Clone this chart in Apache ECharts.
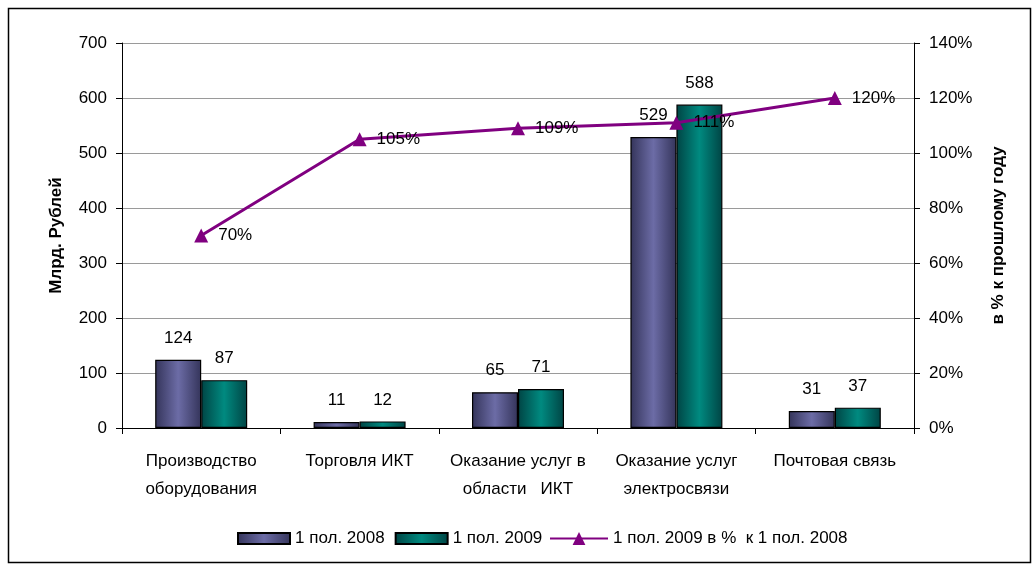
<!DOCTYPE html>
<html><head><meta charset="utf-8">
<script src="https://cdn.jsdelivr.net/npm/echarts@6/dist/echarts.min.js"></script>
<style>html,body{margin:0;padding:0;background:#fff}#c{width:1032px;height:565px}</style>
</head><body><div id="c"></div>
<script>
const categories = ['Производство\nоборудования', 'Торговля ИКТ', 'Оказание услуг в\nобласти   ИКТ', 'Оказание услуг\nэлектросвязи', 'Почтовая связь'];
const values2008 = [124, 11, 65, 529, 31];
const values2009 = [87, 12, 71, 588, 37];
const growthPct = [70, 105, 109, 111, 120];
const seriesNames = ['1 пол. 2008', '1 пол. 2009', '1 пол. 2009 в %  к 1 пол. 2008'];

const FONT = 'Liberation Sans';
const FS = 17;
function hGrad(edge, mid) {
  return new echarts.graphic.LinearGradient(0, 0, 1, 0, [
    {offset: 0, color: edge}, {offset: 0.5, color: mid}, {offset: 1, color: edge}
  ]);
}
const chart = echarts.init(document.getElementById('c'), null, {renderer: 'canvas'});
chart.setOption({
  animation: false,
  textStyle: {fontFamily: FONT, color: '#000'},
  graphic: [{type: 'rect', shape: {x: 8.5, y: 8.5, width: 1022, height: 554}, style: {fill: 'none', stroke: '#000', lineWidth: 1.5}, silent: true, z: -1}],
  grid: {left: 122, right: 118, top: 43, bottom: 137, containLabel: false},
  legend: [{
    top: 530, left: 237, itemGap: 10, itemWidth: 52, itemHeight: 11,
    textStyle: {fontFamily: FONT, fontSize: FS, color: '#000'},
    padding: 0,
    data: [
      {name: seriesNames[0], icon: 'rect'},
      {name: seriesNames[1], icon: 'rect'}
    ]
  }, {
    top: 530, left: 549, itemWidth: 58, itemHeight: 16,
    textStyle: {fontFamily: FONT, fontSize: FS, color: '#000'},
    padding: 0,
    data: [{name: seriesNames[2]}]
  }],
  xAxis: {
    type: 'category', data: categories,
    axisLine: {lineStyle: {color: '#000', width: 1}},
    axisTick: {show: true, alignWithLabel: false, length: 6, lineStyle: {color: '#000'}},
    axisLabel: {fontSize: FS, fontFamily: FONT, color: '#000', margin: 19, lineHeight: 28, interval: 0}
  },
  yAxis: [{
    type: 'value', min: 0, max: 700, interval: 100,
    name: 'Млрд. Рублей', nameLocation: 'middle', nameGap: 57, nameRotate: 90,
    nameTextStyle: {fontSize: FS, fontWeight: 'bold', color: '#000', fontFamily: FONT},
    axisLine: {show: true, lineStyle: {color: '#000'}},
    axisTick: {show: true, length: 6, lineStyle: {color: '#000'}},
    axisLabel: {fontSize: FS, fontFamily: FONT, color: '#000', margin: 15},
    splitLine: {lineStyle: {color: '#9a9a9a', width: 1}}
  }, {
    type: 'value', min: 0, max: 140, interval: 20, position: 'right',
    name: 'в % к прошлому году', nameLocation: 'middle', nameGap: 76, nameRotate: 90,
    nameTextStyle: {fontSize: FS, fontWeight: 'bold', color: '#000', fontFamily: FONT},
    axisLine: {show: true, lineStyle: {color: '#000'}},
    axisTick: {show: true, length: 6, lineStyle: {color: '#000'}},
    axisLabel: {fontSize: FS, fontFamily: FONT, color: '#000', margin: 15, formatter: '{value}%'},
    splitLine: {show: false}
  }],
  series: [{
    name: seriesNames[0], type: 'bar', data: values2008, barWidth: 46, barGap: '0%',
    itemStyle: {color: hGrad('#34345a', '#6c6ca6'), borderColor: '#000', borderWidth: 1.2},
    label: {show: true, position: 'top', distance: 13, fontSize: FS, color: '#000', fontFamily: FONT}
  }, {
    name: seriesNames[1], type: 'bar', data: values2009, barWidth: 46, barGap: '0%',
    itemStyle: {color: hGrad('#004444', '#008a80'), borderColor: '#000', borderWidth: 1.2},
    label: {show: true, position: 'top', distance: 13, fontSize: FS, color: '#000', fontFamily: FONT}
  }, {
    name: seriesNames[2], type: 'line', yAxisIndex: 1, data: growthPct,
    symbol: 'triangle', symbolSize: 14,
    lineStyle: {color: '#800080', width: 3},
    itemStyle: {color: '#800080'},
    label: {show: true, position: 'right', distance: 10, fontSize: FS, color: '#000', fontFamily: FONT, formatter: '{c}%'},
    z: 5
  }]
});
</script></body></html>
